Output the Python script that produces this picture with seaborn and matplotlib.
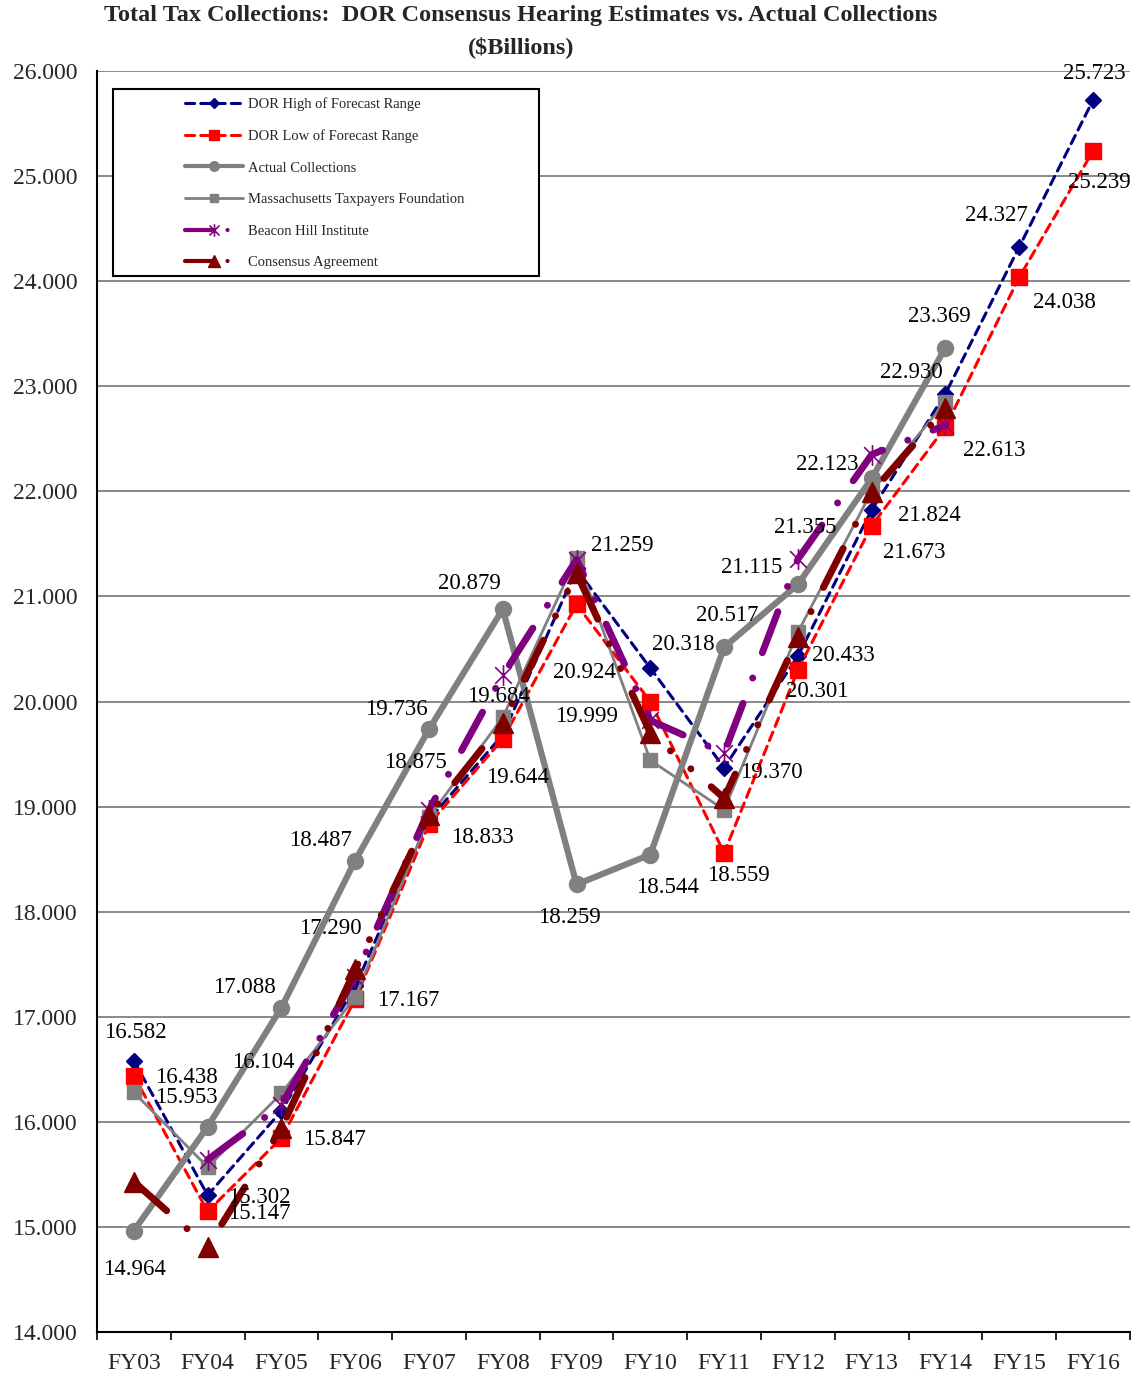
import numpy as np
import pandas as pd
import matplotlib
matplotlib.use("Agg")
import matplotlib.pyplot as plt
from matplotlib.patches import Rectangle
from matplotlib.path import Path
import seaborn as sns

nan = np.nan

# ---- data ($ billions) ----
years = ["FY03", "FY04", "FY05", "FY06", "FY07", "FY08", "FY09",
         "FY10", "FY11", "FY12", "FY13", "FY14", "FY15", "FY16"]
dor_high = [16.582, 15.302, 16.104, 17.290, 18.875, 19.684, 21.259,
            20.318, 19.370, 20.433, 21.824, 22.930, 24.327, 25.723]
dor_low = [16.438, 15.147, 15.847, 17.167, 18.833, 19.644, 20.924,
           19.999, 18.559, 20.301, 21.673, 22.613, 24.038, 25.239]
actual = [14.964, 15.953, 17.088, 18.487, 19.736, 20.879, 18.259,
          18.544, 20.517, 21.115, 22.123, 23.369, nan, nan]
mtf = [16.28, 15.57, 16.27, 17.19, 18.90, 19.85, 21.37,
       19.44, 18.97, 20.66, 22.00, 22.85, nan, nan]
bhi = [nan, 15.64, 16.16, 17.38, 18.97, 20.25, 21.35,
       19.82, 19.51, 21.355, 22.35, 22.63, nan, nan]
consensus = [15.43, 14.81, 15.94, 17.45, 18.92, 19.80, 21.22,
             19.70, 19.08, 20.61, 21.99, 22.79, nan, nan]

y_ticks = [14, 15, 16, 17, 18, 19, 20, 21, 22, 23, 24, 25, 26]

title_1 = "Total Tax Collections:  DOR Consensus Hearing Estimates vs. Actual Collections"
title_2 = "($Billions)"

# ---- styling ----
sns.set_style("white")
plt.rcParams["font.family"] = ["Liberation Serif", "DejaVu Serif"]
plt.rcParams["lines.solid_capstyle"] = "round"

fig = plt.figure(figsize=(11.41, 13.79), dpi=100)
ax = fig.add_axes([0.0850, 0.03408, 0.9053, 0.9144])

pos = np.arange(len(years))

# star marker: an X crossed by a vertical stroke
star_marker = Path(
    [(-1, -1), (1, 1), (-1, 1), (1, -1), (0, -1.25), (0, 1.25)],
    [Path.MOVETO, Path.LINETO, Path.MOVETO, Path.LINETO, Path.MOVETO, Path.LINETO],
)

series = [
    dict(name="DOR High of Forecast Range", y=dor_high, color="#000080",
         lw=2.2, ls=(0, (3, 2)), marker="D", ms=8.5, mew=1.0, z=3),
    dict(name="DOR Low of Forecast Range", y=dor_low, color="#FF0000",
         lw=2.2, ls=(0, (3, 2)), marker="s", ms=11.5, mew=1.0, z=4),
    dict(name="Actual Collections", y=actual, color="#808080",
         lw=4.5, ls="-", marker="o", ms=11.5, mew=1.0, z=5),
    dict(name="Massachusetts Taxpayers Foundation", y=mtf, color="#808080",
         lw=2.0, ls="-", marker="s", ms=10, mew=1.0, z=6),
    dict(name="Beacon Hill Institute", y=bhi, color="#800080",
         lw=5.0, ls=(0, (6.3, 3.9, 0.01, 3.9)), marker=star_marker, ms=15, mew=1.2, z=7),
    dict(name="Consensus Agreement", y=consensus, color="#800000",
         lw=5.0, ls=(0, (6.3, 3.9, 0.01, 3.9, 0.01, 3.9)), marker="^", ms=14, mew=1.0, z=8),
]

for s in series:
    df = pd.DataFrame({"pos": pos, "value": s["y"]}).dropna()
    sns.lineplot(data=df, x="pos", y="value", ax=ax, color=s["color"],
                 linewidth=s["lw"], linestyle=s["ls"], marker=s["marker"],
                 markersize=s["ms"], markeredgecolor=s["color"],
                 markerfacecolor=s["color"], markeredgewidth=s["mew"],
                 dash_capstyle="round", label=s["name"], zorder=s["z"],
                 estimator=None, sort=False)

handles, labels = ax.get_legend_handles_labels()
if ax.get_legend() is not None:
    ax.get_legend().remove()

# ---- value labels (offsets in pixels from the point, screen coords) ----
label_offsets = {
    0: [(1, -28), (52, 2), (-18, -48), (-25, -58), (-14, -57), (-4, -38), (46, -24),
        (33, -24), (47, 5), (45, -1), (58, 6), (-34, -21), (-23, -31), (1, -27)],
    1: [(53, 2), (52, 2), (53, 2), (53, 1), (53, 13), (15, 39), (8, 68),
        (-64, 15), (14, 23), (19, 22), (43, 27), (49, 24), (45, 25), (6, 31)],
    2: [(1, 39), (-21, -29), (-37, -20), (-35, -20), (-33, -20), (-33, -26), (-7, 33),
        (17, 33), (3, -32), (-46, -17), (-44, -14), (-6, -31)],
}
for si, offs in label_offsets.items():
    vals = series[si]["y"]
    for i, (dx, dy) in enumerate(offs):
        v = vals[i]
        ax.annotate(f"{v:.3f}", xy=(pos[i], v), xytext=(dx * 0.72, -dy * 0.72),
                    textcoords="offset points", ha="center", va="center",
                    fontsize=16.5, color="black", zorder=12)

# Beacon Hill FY12 label
ax.annotate(f"{bhi[9]:.3f}", xy=(pos[9], bhi[9]), xytext=(7 * 0.72, 32 * 0.72),
            textcoords="offset points", ha="center", va="center",
            fontsize=16.5, color="black", zorder=12)

# ---- axes ----
ax.set_xlim(-0.5, len(years) - 0.5)
ax.set_ylim(14, 26)
ax.set_yticks(y_ticks)
ax.set_yticklabels([f"{t:.3f}" for t in y_ticks])
ax.set_xticks(pos)
ax.set_xticklabels(years)
ax.set_xticks(np.arange(-0.5, len(years), 1.0), minor=True)
ax.set_xlabel("")
ax.set_ylabel("")

ax.yaxis.grid(True, color="#808080", linewidth=1.3)
ax.xaxis.grid(False)
ax.set_axisbelow(True)

for side in ["top", "right"]:
    ax.spines[side].set_visible(False)
for side in ["left", "bottom"]:
    ax.spines[side].set_color("black")
    ax.spines[side].set_linewidth(1.5)

ax.tick_params(axis="y", which="major", direction="out", length=4, width=1.2,
               color="black", pad=10, labelsize=17)
ax.tick_params(axis="x", which="major", length=0, pad=15, labelsize=17)
ax.tick_params(axis="x", which="minor", direction="out", length=6, width=1.2,
               color="black", bottom=True)

# ---- legend ----
leg_box = Rectangle((113 / 1141, 1 - 276 / 1379), 426 / 1141, 187 / 1379,
                    transform=fig.transFigure, facecolor="white",
                    edgecolor="black", linewidth=1.5, zorder=20)
fig.add_artist(leg_box)
leg = fig.legend(handles, labels, loc="upper left",
                 bbox_to_anchor=(185 / 1141, 1 - 97 / 1379),
                 bbox_transform=fig.transFigure, frameon=False,
                 fontsize=10.5, handlelength=4.0, handletextpad=0.35,
                 borderpad=0, borderaxespad=0, labelspacing=1.26,
                 numpoints=1, markerscale=0.6)
leg.set_zorder(21)
for line in leg.get_lines():
    line.set_linewidth(min(line.get_linewidth(), 3.0))

# ---- title ----
fig.text(521 / 1141, 1 - 15 / 1379, title_1, ha="center", va="center",
         fontsize=17.5, fontweight="bold")
fig.text(521 / 1141, 1 - 47 / 1379, title_2, ha="center", va="center",
         fontsize=17.5, fontweight="bold")

fig.savefig("out.png", dpi=100)
